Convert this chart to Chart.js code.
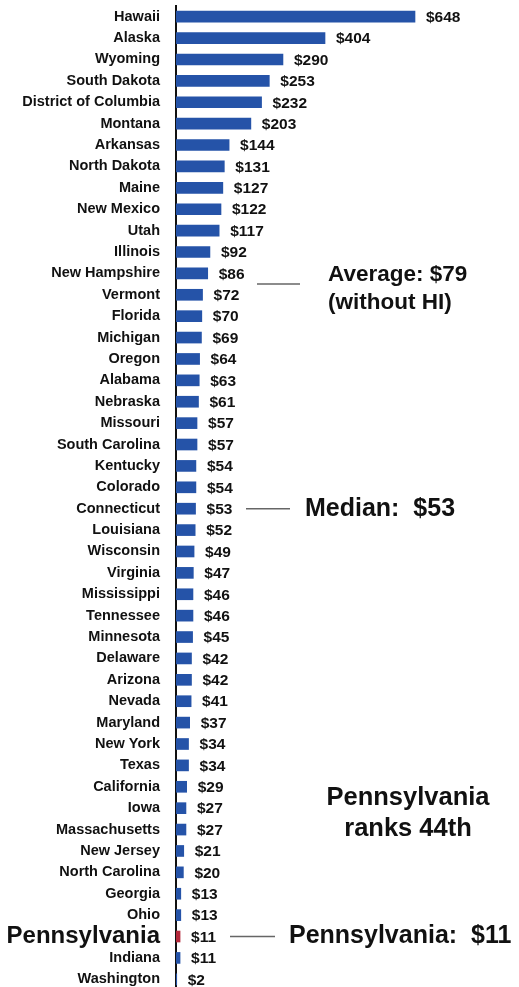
<!DOCTYPE html>
<html>
<head>
<meta charset="utf-8">
<script src="https://cdn.jsdelivr.net/npm/chart.js@4"></script>
<style>
  html, body { margin: 0; background: #fff; height: 987px; overflow: hidden; }
  #wrap { width: 519px; height: 990px; }
</style>
</head>
<body>
<div id="wrap"><canvas id="taxChart"></canvas></div>
<script>
const states = ['Hawaii', 'Alaska', 'Wyoming', 'South Dakota', 'District of Columbia', 'Montana',
  'Arkansas', 'North Dakota', 'Maine', 'New Mexico', 'Utah', 'Illinois', 'New Hampshire',
  'Vermont', 'Florida', 'Michigan', 'Oregon', 'Alabama', 'Nebraska', 'Missouri',
  'South Carolina', 'Kentucky', 'Colorado', 'Connecticut', 'Louisiana', 'Wisconsin',
  'Virginia', 'Mississippi', 'Tennessee', 'Minnesota', 'Delaware', 'Arizona', 'Nevada',
  'Maryland', 'New York', 'Texas', 'California', 'Iowa', 'Massachusetts', 'New Jersey',
  'North Carolina', 'Georgia', 'Ohio', 'Pennsylvania', 'Indiana', 'Washington'];
const amounts = [648, 404, 290, 253, 232, 203, 144, 131, 127, 122, 117, 92, 86,
  72, 70, 69, 64, 63, 61, 57, 57, 54, 54, 53, 52, 49,
  47, 46, 46, 45, 42, 42, 41, 37, 34, 34, 29, 27, 27, 21,
  20, 13, 13, 11, 11, 2];
const highlightState = 'Pennsylvania';

// callout texts
const averageText = ['Average: $79', '(without HI)'];
const medianText = 'Median:  $53';
const paText = 'Pennsylvania:  $11';
const rankText = ['Pennsylvania', 'ranks 44th'];

const FONT = '"Liberation Sans", Arial, sans-serif';

const valueLabels = {
  id: 'valueLabels',
  afterDatasetsDraw(chart) {
    const ctx = chart.ctx;
    const meta = chart.getDatasetMeta(0);
    ctx.save();
    ctx.font = 'bold 15.5px ' + FONT;
    ctx.fillStyle = '#111';
    ctx.textBaseline = 'middle';
    ctx.textAlign = 'left';
    meta.data.forEach((bar, i) => {
      ctx.fillText('$' + amounts[i], bar.x + 11, bar.y + 1);
    });
    ctx.restore();
  }
};

const callouts = {
  id: 'callouts',
  afterDraw(chart) {
    const ctx = chart.ctx;
    const y = chart.scales.y;
    const row = name => y.getPixelForValue(states.indexOf(name));
    ctx.save();
    ctx.strokeStyle = '#666';
    ctx.lineWidth = 1.5;
    const line = (x1, x2, yy) => {
      ctx.beginPath();
      ctx.moveTo(x1, yy);
      ctx.lineTo(x2, yy);
      ctx.stroke();
    };
    const avgY = (row('New Hampshire') + row('Vermont')) / 2;
    line(257, 300, avgY);
    line(246, 290, row('Connecticut'));
    line(230, 275, row(highlightState));

    ctx.fillStyle = '#111';
    ctx.textBaseline = 'middle';
    ctx.textAlign = 'left';
    ctx.font = 'bold 22.5px ' + FONT;
    ctx.fillText(averageText[0], 328, avgY - 9);
    ctx.fillText(averageText[1], 328, avgY + 19);
    ctx.font = 'bold 25px ' + FONT;
    ctx.fillText(medianText, 305, row('Connecticut'));
    ctx.fillText(paText, 289, row(highlightState));
    ctx.textAlign = 'center';
    ctx.font = 'bold 25.5px ' + FONT;
    ctx.fillText(rankText[0], 408, (row('California') + row('Iowa')) / 2);
    ctx.fillText(rankText[1], 408, row('Massachusetts') - 1);
    ctx.restore();
  }
};

new Chart(document.getElementById('taxChart'), {
  type: 'bar',
  data: {
    labels: states,
    datasets: [{
      data: amounts,
      backgroundColor: states.map(s => s === highlightState ? '#b3283a' : '#2553a8'),
      barThickness: 11,
      borderWidth: 0
    }]
  },
  options: {
    indexAxis: 'y',
    responsive: true,
    maintainAspectRatio: false,
    animation: false,
    layout: { padding: { top: 6, right: 0, bottom: 0, left: 0 } },
    plugins: { legend: { display: false }, tooltip: { enabled: false } },
    scales: {
      x: { display: false, min: 0, max: 930 },
      y: {
        afterFit(scale) {
          scale.width = 176;
          scale.paddingTop = 0;
          scale.paddingBottom = 0;
        },
        grid: { display: false },
        border: { display: true, color: '#111', width: 2 },
        ticks: {
          color: '#111',
          padding: 8,
          autoSkip: false,
          font: c => c.index === states.indexOf(highlightState)
            ? { family: FONT, size: 24, weight: 'bold' }
            : { family: FONT, size: 14.5, weight: 'bold' }
        }
      }
    }
  },
  plugins: [valueLabels, callouts]
});
</script>
</body>
</html>
